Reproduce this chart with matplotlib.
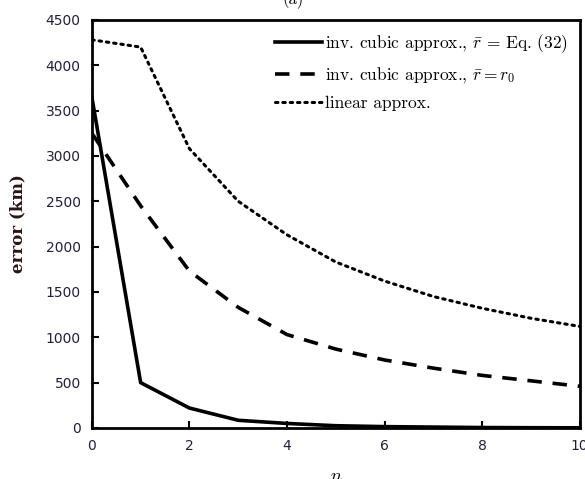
import matplotlib.pyplot as plt

n = [0, 1, 2, 3, 4, 5, 6, 7, 8, 9, 10]

# inv. cubic approx., r = Eq. (32)
err_eq32 = [3650, 500, 220, 85, 50, 25, 15, 10, 5, 3, 2]
# inv. cubic approx., r = r0
err_r0 = [3250, 2450, 1730, 1330, 1030, 870, 750, 660, 580, 520, 460]
# linear approx.
err_lin = [4280, 4200, 3080, 2500, 2130, 1830, 1620, 1450, 1320, 1210, 1120]

yticks = [0, 500, 1000, 1500, 2000, 2500, 3000, 3500, 4000, 4500]
xticks = [0, 2, 4, 6, 8, 10]

plt.rcParams['mathtext.fontset'] = 'cm'

fig = plt.figure(figsize=(5.85, 4.79), dpi=100)
ax = fig.add_axes([0.157, 0.1065, 0.834, 0.852])

ax.plot(n, err_eq32, color='black', lw=2.6, ls='-',
        label=r'inv. cubic approx., $\bar{r}$ = Eq. (32)')
ax.plot(n, err_r0, color='black', lw=2.6, ls=(0, (4, 3)),
        label=r'inv. cubic approx., $\bar{r} = r_0$')
ax.plot(n, err_lin, color='black', lw=2.2, ls=(0, (0.8, 1.6)),
        dash_capstyle='round', label='linear approx.')

ax.set_xlim(0, 10)
ax.set_ylim(0, 4500)
ax.set_xticks(xticks)
ax.set_yticks(yticks)
ax.tick_params(direction='in', length=5, width=1.5, colors='black',
               labelcolor='#20203a', labelsize=10, pad=8)
for s in ax.spines.values():
    s.set_linewidth(2)

ax.set_ylabel('error (km)', family='DejaVu Serif', fontweight='bold',
              fontsize=12, color='#2a1515', labelpad=14)
ax.set_xlabel(r'$n$', fontsize=13, labelpad=10)

leg = ax.legend(loc='upper right', frameon=False, handlelength=2.7,
                handletextpad=0.15, borderaxespad=0.3, labelspacing=0.6,
                prop={'family': 'cmr10', 'size': 12.5})

fig.text(0.5, 1.0, '(a)', ha='center', va='center', fontsize=12,
         family='cmr10')

fig.savefig('out.png', dpi=100)
